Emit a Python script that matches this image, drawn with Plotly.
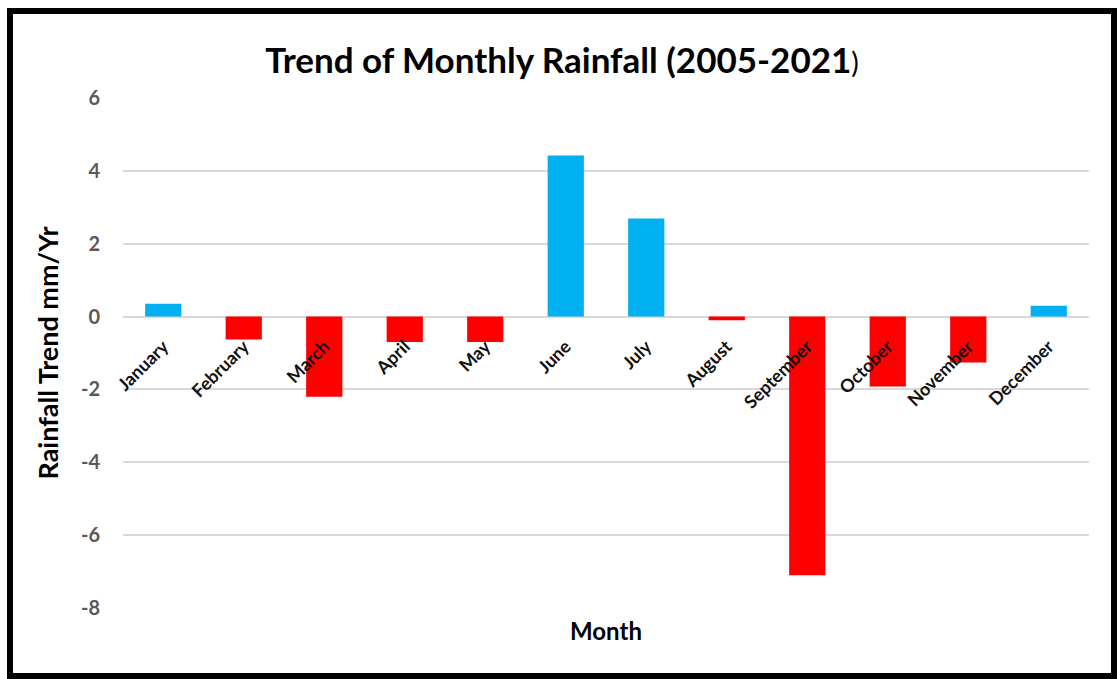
import plotly.graph_objects as go

months = ["January", "February", "March", "April", "May", "June",
          "July", "August", "September", "October", "November", "December"]
trend = [0.35, -0.63, -2.2, -0.7, -0.7, 4.42, 2.69, -0.1, -7.1, -1.92, -1.26, 0.3]
y_ticks = [-8, -6, -4, -2, 0, 2, 4, 6]

BLUE = "#00B0F0"
RED = "#FF0000"
colors = [BLUE if v >= 0 else RED for v in trend]

W, H = 1118, 679
ML, MR, MT, MB = 123, 29, 98, 71
PW, PH = W - ML - MR, H - MT - MB
YMIN, YMAX = -8, 6

def px_to_paper_x(px):
    return (px - ML) / PW

def px_to_paper_y(py):
    return (H - MB - py) / PH

FONT = "Lato"

fig = go.Figure(go.Bar(
    x=months, y=trend, marker=dict(color=colors, line=dict(width=0)),
    width=0.45,
))

fig.update_layout(
    width=W, height=H,
    margin=dict(l=ML, r=MR, t=MT, b=MB),
    paper_bgcolor="white", plot_bgcolor="white",
    showlegend=False,
    font=dict(family=FONT, color="black"),
    title=dict(
        text="<b>Trend of Monthly Rainfall (2005-2021</b><span style='font-size:28px'>)</span>",
        x=562 / W, xref="container", xanchor="center",
        y=1 - 61 / H, yanchor="middle",
        font=dict(family=FONT, size=35, color="black"),
    ),
    xaxis=dict(
        type="category",
        anchor="free",
        position=(0 - YMIN) / (YMAX - YMIN),
        showgrid=False, showline=False, zeroline=False,
        tickangle=-45,
        ticks="",
        tickfont=dict(family=FONT, size=18, color="#111111", weight="bold"),
        ticklabelstandoff=15,
    ),
    yaxis=dict(
        range=[YMIN, YMAX],
        tickvals=y_ticks,
        ticktext=[str(v) for v in y_ticks],
        showgrid=True, gridcolor="#D9D9D9", gridwidth=1.5,
        zeroline=True, zerolinecolor="#D9D9D9", zerolinewidth=1.5,
        showline=False, ticks="",
        tickfont=dict(family=FONT, size=20, color="#595959", weight="bold"),
        ticklabelstandoff=22,
        title=dict(text="<b>Rainfall Trend mm/Yr</b>",
                   font=dict(family=FONT, size=27, color="black"),
                   standoff=14),
    ),
    annotations=[
        dict(text="<b>Month</b>", xref="paper", yref="paper",
             x=0.5, y=px_to_paper_y(630), xanchor="center", yanchor="middle",
             showarrow=False, font=dict(family=FONT, size=24, color="black")),
    ],
    shapes=[
        dict(type="rect", xref="paper", yref="paper",
             x0=px_to_paper_x(10), x1=px_to_paper_x(1114),
             y0=px_to_paper_y(676), y1=px_to_paper_y(11),
             line=dict(color="black", width=6), fillcolor="rgba(0,0,0,0)",
             layer="above"),
    ],
)

fig.write_html("out.html")
